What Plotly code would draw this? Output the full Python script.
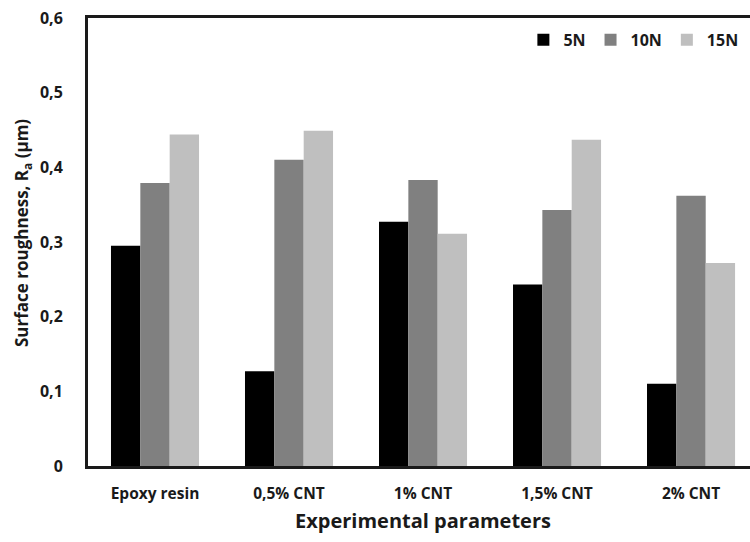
import plotly.graph_objects as go

# Surface roughness Ra (µm) per material and applied load
categories = ["Epoxy resin", "0,5% CNT", "1% CNT", "1,5% CNT", "2% CNT"]
loads = ["5N", "10N", "15N"]
ra_5n = [0.295, 0.127, 0.327, 0.243, 0.110]
ra_10n = [0.379, 0.410, 0.383, 0.343, 0.362]
ra_15n = [0.444, 0.449, 0.311, 0.437, 0.272]

y_ticks = [0, 0.1, 0.2, 0.3, 0.4, 0.5, 0.6]
y_tick_labels = ["0", "0,1", "0,2", "0,3", "0,4", "0,5", "0,6"]

bar_colors = ["#000000", "#808080", "#bfbfbf"]
FONT = "Open Sans"
INK = "#1a1a1a"

fig = go.Figure()
for name, values, color in zip(loads, [ra_5n, ra_10n, ra_15n], bar_colors):
    fig.add_trace(go.Bar(x=categories, y=values, name=name,
                         marker=dict(color=color, line=dict(width=0))))

fig.update_layout(
    width=750, height=542,
    margin=dict(l=88, r=0, t=18, b=76),
    paper_bgcolor="white", plot_bgcolor="white",
    barmode="group", bargap=0.343, bargroupgap=0,
    font=dict(family=FONT, color=INK),
    showlegend=True,
    legend=dict(orientation="h", x=0.99, xanchor="right", y=0.951, yanchor="middle",
                font=dict(family=FONT, size=16, weight="bold", color=INK),
                itemwidth=30, tracegroupgap=0, bgcolor="rgba(0,0,0,0)"),
    xaxis=dict(type="category", range=[-0.5, 4.44], showline=True, linewidth=3,
               linecolor=INK, mirror=True, showgrid=False, ticks="",
               tickfont=dict(family=FONT, size=15.5, weight="bold", color=INK),
               ticklabelstandoff=11),
    yaxis=dict(range=[0, 0.6], tickvals=y_ticks, ticktext=y_tick_labels,
               showline=True, linewidth=3, linecolor=INK, mirror=False,
               showgrid=False, zeroline=False, ticks="",
               tickfont=dict(family=FONT, size=16, weight="bold", color=INK),
               ticklabelstandoff=19),
    annotations=[
        dict(text="Surface roughness, R<sub>a</sub> (µm)", textangle=-90,
             xref="paper", yref="paper", x=0, y=0.52, xshift=-66,
             xanchor="center", yanchor="middle", showarrow=False,
             font=dict(family=FONT, size=17, weight="bold", color=INK)),
        dict(text="Experimental parameters", xref="x", yref="paper", x=2, y=0,
             yshift=-54, xanchor="center", yanchor="middle", showarrow=False,
             font=dict(family=FONT, size=20, weight="bold", color=INK)),
    ],
)

fig.write_html("out.html")
